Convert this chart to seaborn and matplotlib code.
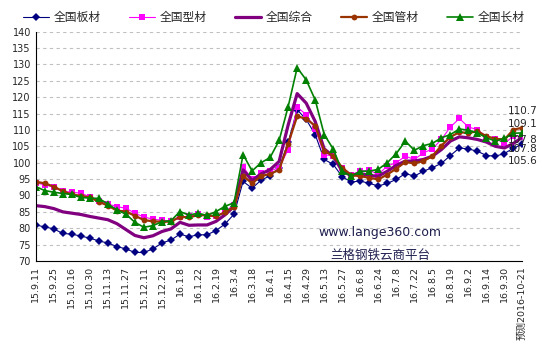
import numpy as np
import pandas as pd
import seaborn as sns
import matplotlib.pyplot as plt

# Data (weekly index)
tick_labels = ['15.9.11', '15.9.25', '15.10.16', '15.10.30', '15.11.13', '15.11.27',
               '15.12.11', '15.12.25', '16.1.8', '16.1.22', '16.2.19', '16.3.4',
               '16.3.18', '16.4.1', '16.4.15', '16.4.29', '16.5.13', '16.5.27',
               '16.6.8', '16.6.24', '16.7.8', '16.7.22', '16.8.5', '16.8.19',
               '16.9.2', '16.9.14', '16.9.30', '预测2016-10-21']

plate = [81.0, 80.4, 79.8, 78.4, 78.2, 77.6, 77.0, 76.1, 75.5, 74.4,
         73.7, 72.6, 72.6, 73.7, 75.5, 76.4, 78.2, 77.4, 78.0, 78.0,
         79.3, 81.3, 84.3, 94.3, 92.2, 94.7, 96.0, 98.5, 106.2, 116.2,
         113.2, 108.6, 101.0, 99.5, 95.7, 94.1, 94.4, 93.7, 92.9, 93.7,
         94.9, 96.7, 95.9, 97.4, 98.5, 99.8, 102.2, 104.5, 104.2, 103.5,
         102.2, 102.0, 102.8, 104.5, 105.6]
section = [93.8, 93.3, 92.5, 91.3, 91.0, 90.7, 89.6, 88.4, 87.4, 86.6,
           86.1, 84.6, 83.4, 82.8, 82.4, 82.3, 83.5, 83.6, 84.3, 83.5,
           83.8, 85.1, 87.2, 98.8, 95.0, 96.9, 97.5, 98.5, 104.0, 117.0,
           114.7, 110.3, 102.5, 102.0, 98.5, 96.4, 97.4, 97.7, 96.4, 99.0,
           100.0, 102.0, 101.0, 103.0, 104.2, 107.1, 110.9, 113.5, 110.9, 110.1,
           107.9, 107.3, 105.9, 108.1, 107.8]
composite = [86.9, 86.6, 86.0, 85.0, 84.6, 84.2, 83.6, 83.1, 82.6, 81.4,
             79.6, 77.8, 77.1, 77.7, 79.0, 79.8, 81.8, 80.9, 81.0, 81.0,
             82.1, 84.1, 86.7, 97.8, 94.6, 96.6, 97.9, 100.4, 111.5, 121.1,
             118.2, 112.6, 104.2, 102.0, 97.4, 96.1, 96.7, 96.1, 95.9, 97.4,
             99.2, 100.5, 100.5, 101.0, 102.0, 104.0, 106.6, 107.9, 107.6, 107.1,
             106.3, 105.0, 104.5, 105.9, 107.8]
pipe = [94.2, 93.7, 92.7, 91.3, 90.3, 89.9, 89.4, 88.1, 86.9, 85.4,
        85.1, 83.8, 82.5, 82.1, 82.0, 82.0, 83.5, 83.3, 84.0, 84.0,
        83.6, 84.9, 86.4, 96.0, 93.7, 95.9, 96.6, 97.8, 105.8, 114.2,
        113.4, 111.3, 103.5, 102.2, 98.5, 96.2, 95.9, 95.4, 94.9, 96.4,
        98.2, 100.2, 99.8, 100.5, 102.0, 105.2, 107.9, 109.3, 109.1, 109.6,
        108.1, 107.3, 107.1, 110.1, 110.7]
long_steel = [92.7, 91.5, 91.0, 90.6, 90.3, 89.4, 89.2, 89.1, 87.4, 85.6,
              84.3, 81.8, 80.3, 80.8, 82.0, 82.3, 85.1, 84.0, 84.6, 83.9,
              85.1, 86.7, 87.8, 102.5, 97.5, 100.0, 101.6, 106.8, 117.1, 129.0,
              125.3, 119.2, 108.6, 104.2, 97.4, 95.9, 97.4, 97.4, 98.0, 100.0,
              102.8, 106.6, 103.8, 105.2, 105.9, 107.6, 108.6, 110.3, 109.9, 109.1,
              107.6, 106.6, 107.4, 109.0, 109.1]

end_labels = ['110.7', '109.1', '107.8', '107.8', '105.6']
end_label_y = [115.8, 111.8, 106.9, 104.2, 100.5]

sns.set_style('white')
plt.rcParams['font.family'] = ['DejaVu Sans', 'Noto Sans CJK SC']

idx = np.arange(len(plate))
df = pd.DataFrame({'idx': idx, '全国板材': plate, '全国型材': section,
                   '全国综合': composite, '全国管材': pipe, '全国长材': long_steel})

fig = plt.figure(figsize=(5.42, 3.60), dpi=100)
ax = fig.add_axes([0.066, 0.275, 0.898, 0.637])

styles = {
    '全国板材': dict(color='#000080', marker='D', markersize=4, linewidth=0.8),
    '全国型材': dict(color='#ff00ff', marker='s', markersize=4.8, linewidth=0.8),
    '全国综合': dict(color='#800080', linewidth=2.3),
    '全国管材': dict(color='#993300', marker='o', markersize=4.2, linewidth=1.6),
    '全国长材': dict(color='#008000', marker='^', markersize=5.2, linewidth=1.2),
}
for name, st in styles.items():
    sns.lineplot(data=df, x='idx', y=name, ax=ax, label=name,
                 markeredgewidth=0, **st)

ax.set_xlim(0, len(idx) - 1)
ax.set_ylim(70, 140)
ax.set_yticks(range(70, 141, 5))
ax.set_xticks(idx[::2])
ax.set_xticklabels(tick_labels, rotation=90, fontsize=6.8)
ax.tick_params(axis='y', labelsize=7)
ax.tick_params(direction='in', length=3, width=0.8, color='black')
ax.set_xlabel('')
ax.set_ylabel('')
ax.yaxis.grid(True, linestyle=(0, (3, 3)), color='#c0c0c0', linewidth=0.8)
for s in ['top', 'right']:
    ax.spines[s].set_visible(False)
for s in ['left', 'bottom']:
    ax.spines[s].set_color('black')
    ax.spines[s].set_linewidth(0.8)

for txt, yv in zip(end_labels, end_label_y):
    ax.text(len(idx) - 2.6, yv, txt, fontsize=7.5, va='center', ha='left')

ax.text(38.2, 78.8, 'www.lange360.com', fontsize=9, color='#202050', ha='center', va='center')
ax.text(38.2, 71.8, '兰格钢铁云商平台', fontsize=9, color='#202050', ha='center', va='center',
        family=['Noto Sans CJK SC', 'DejaVu Sans'])

ax.legend(loc='center', bbox_to_anchor=(0.505, 0.952), bbox_transform=fig.transFigure,
          ncol=5, frameon=False, handlelength=2.2, handletextpad=0.4,
          columnspacing=2.4, prop={'family': ['Noto Sans CJK SC', 'DejaVu Sans'], 'size': 8.5})

fig.savefig('out.png', dpi=100)
